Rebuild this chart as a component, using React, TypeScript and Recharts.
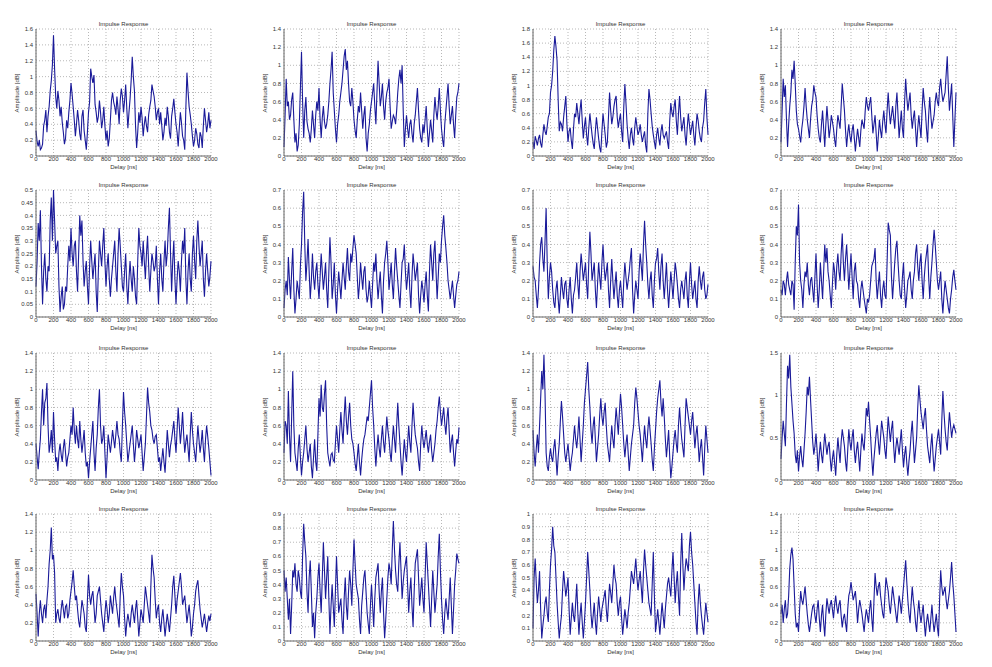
import { LineChart, Line, XAxis, YAxis, CartesianGrid } from 'recharts';

// delay axis, ns
const delays = [
  0, 25, 50, 75, 100, 125, 150, 175, 200, 225,
  250, 275, 300, 325, 350, 375, 400, 425, 450, 475,
  500, 525, 550, 575, 600, 625, 650, 675, 700, 725,
  750, 775, 800, 825, 850, 875, 900, 925, 950, 975,
  1000, 1025, 1050, 1075, 1100, 1125, 1150, 1175, 1200, 1225,
  1250, 1275, 1300, 1325, 1350, 1375, 1400, 1425, 1450, 1475,
  1500, 1525, 1550, 1575, 1600, 1625, 1650, 1675, 1700, 1725,
  1750, 1775, 1800, 1825, 1850, 1875, 1900, 1925, 1950, 1975,
  2000,
];
// in-between samples
const midDelays = [
  12.5, 37.5, 62.5, 87.5, 112.5, 137.5, 162.5, 187.5, 212.5, 237.5,
  262.5, 287.5, 312.5, 337.5, 362.5, 387.5, 412.5, 437.5, 462.5, 487.5,
  512.5, 537.5, 562.5, 587.5, 612.5, 637.5, 662.5, 687.5, 712.5, 737.5,
  762.5, 787.5, 812.5, 837.5, 862.5, 887.5, 912.5, 937.5, 962.5, 987.5,
  1012.5, 1037.5, 1062.5, 1087.5, 1112.5, 1137.5, 1162.5, 1187.5, 1212.5, 1237.5,
  1262.5, 1287.5, 1312.5, 1337.5, 1362.5, 1387.5, 1412.5, 1437.5, 1462.5, 1487.5,
  1512.5, 1537.5, 1562.5, 1587.5, 1612.5, 1637.5, 1662.5, 1687.5, 1712.5, 1737.5,
  1762.5, 1787.5, 1812.5, 1837.5, 1862.5, 1887.5, 1912.5, 1937.5, 1962.5, 1987.5,
];

const xTicks = [0, 200, 400, 600, 800, 1000, 1200, 1400, 1600, 1800, 2000];

const ticks16 = [0, 0.2, 0.4, 0.6, 0.8, 1, 1.2, 1.4, 1.6];
const ticks14 = [0, 0.2, 0.4, 0.6, 0.8, 1, 1.2, 1.4];
const ticks18 = [0, 0.2, 0.4, 0.6, 0.8, 1, 1.2, 1.4, 1.6, 1.8];
const ticks05 = [0, 0.05, 0.1, 0.15, 0.2, 0.25, 0.3, 0.35, 0.4, 0.45, 0.5];
const ticks07 = [0, 0.1, 0.2, 0.3, 0.4, 0.5, 0.6, 0.7];
const ticks15 = [0, 0.5, 1, 1.5];
const ticks09 = [0, 0.1, 0.2, 0.3, 0.4, 0.5, 0.6, 0.7, 0.8, 0.9];
const ticks10 = [0, 0.1, 0.2, 0.3, 0.4, 0.5, 0.6, 0.7, 0.8, 0.9, 1];

// amplitude per panel, row by row (ampN on delays, midN on midDelays)
const amp1 = [
  0.32, 0.12, 0.08, 0.15, 0.45, 0.3, 0.62, 0.95, 1.52, 0.75,
  0.82, 0.5, 0.42, 0.15, 0.45, 0.55, 0.92, 0.62, 0.25, 0.58,
  0.28, 0.5, 0.32, 0.08, 0.55, 1.1, 0.92, 0.65, 0.42, 0.7,
  0.35, 0.62, 0.2, 0.12, 0.45, 0.8, 0.62, 0.75, 0.4, 0.85,
  0.55, 0.9, 0.35, 0.72, 1.25, 0.82, 0.1, 0.55, 0.62, 0.25,
  0.5, 0.3, 0.62, 0.9, 0.75, 0.45, 0.6, 0.55, 0.2, 0.48,
  0.62, 0.3, 0.5, 0.72, 0.4, 0.12, 0.55, 0.25, 0.08, 1.05,
  0.62, 0.4, 0.12, 0.35, 0.15, 0.3, 0.1, 0.6, 0.3, 0.55,
  0.45,
];
const mid1 = [
  0.18, 0.2, 0.1, 0.38, 0.58, 0.5, 0.82, 1.15, 1.1, 0.6,
  0.7, 0.62, 0.3, 0.22, 0.35, 0.7, 0.78, 0.45, 0.4, 0.45,
  0.2, 0.58, 0.2, 0.3, 0.68, 1.0, 1.02, 0.55, 0.5, 0.55,
  0.45, 0.38, 0.32, 0.22, 0.7, 0.68, 0.52, 0.6, 0.7, 0.75,
  0.7, 0.6, 0.55, 0.95, 1.0, 0.38, 0.3, 0.42, 0.48, 0.4,
  0.38, 0.52, 0.7, 0.82, 0.62, 0.55, 0.4, 0.38, 0.3, 0.38,
  0.5, 0.22, 0.6, 0.55, 0.3, 0.35, 0.42, 0.2, 0.6, 0.82,
  0.52, 0.25, 0.2, 0.28, 0.1, 0.25, 0.38, 0.45, 0.4, 0.35,
];
const amp2 = [
  0.1, 0.85, 0.6, 0.45, 0.7, 0.15, 0.05, 0.35, 1.15, 0.2,
  0.65, 0.3, 0.15, 0.5, 0.2, 0.6, 0.75, 0.2, 0.55, 0.3,
  0.45, 0.8, 1.15, 0.5, 0.15, 0.45, 0.7, 0.95, 1.18, 1.05,
  0.6, 0.75, 0.4, 0.2, 0.55, 0.7, 0.3, 0.55, 0.05, 0.35,
  0.6, 0.8, 0.35, 1.05, 0.55, 0.8, 0.4, 0.7, 0.85, 0.3,
  0.45, 0.35, 0.7, 0.95, 1.0, 0.1, 0.45, 0.2, 0.4, 0.15,
  0.45, 0.75, 0.3, 0.15, 0.25, 0.55, 0.1, 0.4, 0.15, 0.65,
  0.4, 0.75, 0.3, 0.1, 0.5, 0.8, 0.35, 0.55, 0.2, 0.65,
  0.8,
];
const mid2 = [
  0.45, 0.55, 0.4, 0.62, 0.4, 0.25, 0.12, 0.75, 0.6, 0.5,
  0.38, 0.25, 0.3, 0.35, 0.45, 0.5, 0.4, 0.42, 0.38, 0.35,
  0.6, 0.95, 0.7, 0.3, 0.35, 0.6, 0.8, 1.1, 0.95, 0.8,
  0.55, 0.6, 0.28, 0.4, 0.48, 0.5, 0.45, 0.2, 0.25, 0.5,
  0.7, 0.55, 0.7, 0.8, 0.65, 0.55, 0.6, 0.75, 0.55, 0.38,
  0.42, 0.5, 0.85, 0.8, 0.5, 0.3, 0.3, 0.35, 0.25, 0.35,
  0.6, 0.5, 0.2, 0.35, 0.4, 0.3, 0.25, 0.28, 0.45, 0.5,
  0.55, 0.5, 0.18, 0.35, 0.65, 0.55, 0.45, 0.35, 0.45, 0.7,
];
const amp3 = [
  0.2, 0.28, 0.15, 0.3, 0.12, 0.45, 0.3, 0.55, 0.9, 1.2,
  1.7, 1.35, 0.35, 0.45, 0.55, 0.85, 0.2, 0.4, 0.1, 0.6,
  0.75, 0.45, 0.8, 0.25, 0.55, 0.15, 0.6, 0.3, 0.1, 0.55,
  0.25, 0.05, 0.6, 0.3, 0.2, 0.9, 0.45, 0.7, 0.85, 0.4,
  0.6, 0.2, 1.02, 0.45, 0.1, 0.4, 0.15, 0.55, 0.3, 0.45,
  0.2, 0.35, 0.05, 0.95, 0.6, 0.3, 0.1, 0.4, 0.15, 0.45,
  0.25, 0.35, 0.1, 0.75, 0.55, 0.8, 0.3, 0.85, 0.35, 0.55,
  0.15, 0.6, 0.3, 0.5, 0.15, 0.6, 0.35, 0.2, 0.5, 0.95,
  0.3,
];
const mid3 = [
  0.1, 0.22, 0.25, 0.18, 0.3, 0.35, 0.42, 0.6, 1.0, 1.5,
  1.55, 0.8, 0.48, 0.35, 0.7, 0.45, 0.35, 0.22, 0.38, 0.55,
  0.6, 0.65, 0.5, 0.42, 0.3, 0.4, 0.45, 0.18, 0.35, 0.4,
  0.12, 0.35, 0.45, 0.12, 0.55, 0.65, 0.55, 0.8, 0.55, 0.52,
  0.35, 0.7, 0.75, 0.25, 0.3, 0.25, 0.4, 0.42, 0.35, 0.3,
  0.28, 0.15, 0.6, 0.8, 0.42, 0.2, 0.3, 0.25, 0.35, 0.3,
  0.3, 0.2, 0.5, 0.62, 0.7, 0.5, 0.6, 0.55, 0.45, 0.3,
  0.4, 0.45, 0.4, 0.3, 0.4, 0.5, 0.25, 0.4, 0.75, 0.55,
];
const amp4 = [
  0.15, 0.85, 0.78, 0.1, 0.55, 0.95, 1.05, 0.5, 0.3, 0.15,
  0.4, 0.75, 0.4, 0.2, 0.55, 0.78, 0.65, 0.3, 0.15, 0.5,
  0.1, 0.55, 0.2, 0.45, 0.3, 0.1, 0.45, 0.3, 0.8, 0.5,
  0.1, 0.35, 0.15, 0.35, 0.05, 0.3, 0.1, 0.4, 0.3, 0.65,
  0.5, 0.65, 0.25, 0.45, 0.05, 0.4, 0.2, 0.5, 0.25, 0.7,
  0.35, 0.55, 0.3, 0.7, 0.2, 0.5, 0.2, 0.85, 0.5, 0.7,
  0.3, 0.5, 0.1, 0.45, 0.2, 0.75, 0.5, 0.15, 0.65, 0.3,
  0.45, 0.7, 0.55, 0.85, 0.6, 0.7, 1.1, 0.5, 0.8, 0.1,
  0.7,
];
const mid4 = [
  0.5, 0.65, 0.4, 0.35, 0.7, 0.85, 0.8, 0.35, 0.22, 0.3,
  0.55, 0.55, 0.3, 0.4, 0.62, 0.7, 0.45, 0.2, 0.35, 0.3,
  0.35, 0.38, 0.3, 0.38, 0.18, 0.3, 0.38, 0.55, 0.65, 0.28,
  0.25, 0.22, 0.28, 0.2, 0.18, 0.2, 0.28, 0.35, 0.5, 0.55,
  0.58, 0.45, 0.35, 0.25, 0.22, 0.28, 0.38, 0.35, 0.5, 0.5,
  0.45, 0.42, 0.55, 0.45, 0.35, 0.3, 0.6, 0.65, 0.6, 0.45,
  0.42, 0.3, 0.3, 0.32, 0.5, 0.6, 0.3, 0.45, 0.45, 0.38,
  0.6, 0.6, 0.75, 0.7, 0.65, 0.9, 0.75, 0.65, 0.45, 0.4,
];
const amp5 = [
  0.12, 0.37, 0.42, 0.05, 0.25, 0.1, 0.18, 0.47, 0.5, 0.25,
  0.3, 0.02, 0.12, 0.05, 0.1, 0.28, 0.35, 0.2, 0.3, 0.1,
  0.4, 0.38, 0.12, 0.22, 0.05, 0.3, 0.15, 0.25, 0.02, 0.3,
  0.2, 0.35, 0.12, 0.25, 0.08, 0.2, 0.3, 0.1, 0.35, 0.2,
  0.1, 0.25, 0.05, 0.22, 0.1, 0.15, 0.05, 0.35, 0.25, 0.3,
  0.15, 0.32, 0.1, 0.25, 0.18, 0.28, 0.05, 0.25, 0.1, 0.3,
  0.25, 0.43, 0.1, 0.3, 0.05, 0.22, 0.1, 0.3, 0.35, 0.05,
  0.25, 0.1, 0.32, 0.15, 0.38, 0.2, 0.3, 0.08, 0.25, 0.12,
  0.22,
];
const mid5 = [
  0.22, 0.3, 0.2, 0.18, 0.15, 0.2, 0.38, 0.3, 0.38, 0.28,
  0.12, 0.08, 0.03, 0.12, 0.2, 0.22, 0.25, 0.28, 0.18, 0.25,
  0.32, 0.22, 0.18, 0.12, 0.2, 0.22, 0.2, 0.1, 0.18, 0.25,
  0.28, 0.22, 0.2, 0.15, 0.15, 0.25, 0.18, 0.25, 0.28, 0.12,
  0.18, 0.12, 0.15, 0.15, 0.2, 0.08, 0.22, 0.28, 0.2, 0.22,
  0.25, 0.2, 0.18, 0.22, 0.2, 0.15, 0.18, 0.15, 0.22, 0.2,
  0.35, 0.25, 0.22, 0.15, 0.15, 0.18, 0.22, 0.25, 0.15, 0.18,
  0.15, 0.25, 0.22, 0.3, 0.28, 0.25, 0.15, 0.18, 0.18, 0.16,
];
const amp6 = [
  0.05, 0.2, 0.33, 0.1, 0.38, 0.02, 0.2, 0.1, 0.4, 0.69,
  0.2, 0.43, 0.1, 0.35, 0.15, 0.3, 0.1, 0.35, 0.15, 0.3,
  0.05, 0.44, 0.1, 0.3, 0.02, 0.25, 0.1, 0.3, 0.15, 0.38,
  0.2, 0.3, 0.45, 0.35, 0.1, 0.3, 0.15, 0.28, 0.08, 0.2,
  0.05, 0.3, 0.35, 0.1, 0.25, 0.02, 0.3, 0.42, 0.15, 0.3,
  0.1, 0.38, 0.2, 0.05, 0.3, 0.4, 0.15, 0.3, 0.05, 0.35,
  0.2, 0.3, 0.02, 0.2, 0.08, 0.25, 0.03, 0.4, 0.2, 0.42,
  0.1, 0.35, 0.42, 0.56, 0.38, 0.2, 0.1, 0.2, 0.05, 0.18,
  0.25,
];
const mid6 = [
  0.15, 0.12, 0.2, 0.25, 0.15, 0.1, 0.15, 0.28, 0.58, 0.4,
  0.3, 0.25, 0.2, 0.22, 0.25, 0.18, 0.22, 0.25, 0.22, 0.15,
  0.25, 0.3, 0.18, 0.12, 0.15, 0.18, 0.2, 0.22, 0.28, 0.25,
  0.35, 0.38, 0.4, 0.22, 0.18, 0.22, 0.25, 0.15, 0.12, 0.12,
  0.18, 0.25, 0.2, 0.18, 0.12, 0.2, 0.35, 0.3, 0.22, 0.18,
  0.25, 0.28, 0.12, 0.18, 0.32, 0.25, 0.22, 0.15, 0.22, 0.28,
  0.25, 0.12, 0.12, 0.15, 0.18, 0.12, 0.25, 0.3, 0.35, 0.25,
  0.22, 0.3, 0.5, 0.45, 0.3, 0.15, 0.15, 0.12, 0.12, 0.2,
];
const amp7 = [
  0.28, 0.2, 0.05, 0.3, 0.44, 0.25, 0.6, 0.1, 0.3, 0.15,
  0.05, 0.2, 0.02, 0.22, 0.1, 0.2, 0.05, 0.22, 0.02, 0.15,
  0.3, 0.1, 0.35, 0.2, 0.3, 0.1, 0.47, 0.2, 0.3, 0.05,
  0.3, 0.15, 0.4, 0.2, 0.3, 0.05, 0.32, 0.1, 0.25, 0.05,
  0.2, 0.05, 0.3, 0.15, 0.25, 0.38, 0.02, 0.2, 0.1, 0.35,
  0.2, 0.53, 0.3, 0.1, 0.25, 0.05, 0.3, 0.38, 0.15, 0.35,
  0.1, 0.3, 0.05, 0.25, 0.1, 0.3, 0.18, 0.05, 0.2, 0.1,
  0.25, 0.05, 0.3, 0.1, 0.2, 0.05, 0.28, 0.15, 0.25, 0.1,
  0.18,
];
const mid7 = [
  0.22, 0.12, 0.15, 0.4, 0.32, 0.42, 0.3, 0.22, 0.25, 0.08,
  0.15, 0.1, 0.12, 0.15, 0.18, 0.1, 0.15, 0.1, 0.12, 0.22,
  0.18, 0.25, 0.28, 0.25, 0.18, 0.3, 0.35, 0.25, 0.15, 0.18,
  0.22, 0.3, 0.28, 0.25, 0.15, 0.2, 0.2, 0.18, 0.12, 0.15,
  0.12, 0.2, 0.22, 0.2, 0.32, 0.15, 0.12, 0.15, 0.25, 0.28,
  0.4, 0.4, 0.18, 0.2, 0.12, 0.2, 0.32, 0.25, 0.28, 0.2,
  0.2, 0.15, 0.15, 0.18, 0.2, 0.25, 0.1, 0.15, 0.15, 0.2,
  0.12, 0.2, 0.18, 0.15, 0.1, 0.2, 0.2, 0.22, 0.15, 0.12,
];
const amp8 = [
  0.15, 0.2, 0.12, 0.25, 0.15, 0.2, 0.04, 0.5, 0.62, 0.2,
  0.05, 0.25, 0.3, 0.12, 0.22, 0.08, 0.35, 0.05, 0.3, 0.1,
  0.4, 0.38, 0.2, 0.05, 0.3, 0.15, 0.35, 0.2, 0.46, 0.2,
  0.4, 0.15, 0.35, 0.1, 0.3, 0.18, 0.05, 0.2, 0.1, 0.02,
  0.08, 0.2, 0.3, 0.38, 0.1, 0.25, 0.05, 0.2, 0.1, 0.52,
  0.45, 0.1, 0.3, 0.42, 0.2, 0.1, 0.3, 0.05, 0.2, 0.25,
  0.1, 0.25, 0.4, 0.2, 0.35, 0.1, 0.3, 0.4, 0.1, 0.3,
  0.48, 0.3, 0.15, 0.25, 0.02, 0.2, 0.1, 0.02, 0.15, 0.26,
  0.15,
];
const mid8 = [
  0.12, 0.18, 0.2, 0.18, 0.12, 0.18, 0.3, 0.45, 0.3, 0.15,
  0.18, 0.22, 0.18, 0.2, 0.15, 0.22, 0.18, 0.15, 0.2, 0.25,
  0.3, 0.25, 0.12, 0.18, 0.25, 0.28, 0.25, 0.35, 0.3, 0.32,
  0.28, 0.25, 0.22, 0.25, 0.2, 0.1, 0.15, 0.15, 0.06, 0.1,
  0.12, 0.28, 0.32, 0.2, 0.18, 0.12, 0.15, 0.12, 0.3, 0.48,
  0.22, 0.2, 0.38, 0.3, 0.12, 0.22, 0.15, 0.12, 0.22, 0.15,
  0.2, 0.35, 0.28, 0.3, 0.2, 0.22, 0.35, 0.22, 0.22, 0.4,
  0.4, 0.2, 0.2, 0.1, 0.12, 0.15, 0.05, 0.1, 0.22, 0.2,
];
const amp9 = [
  0.4, 0.12, 0.45, 1.0, 0.85, 1.07, 0.3, 0.55, 0.75, 0.2,
  0.1, 0.4, 0.2, 0.45, 0.15, 0.3, 0.6, 0.8, 0.4, 0.45,
  0.65, 0.3, 0.55, 0.15, 0.02, 0.35, 0.65, 0.1, 0.5, 1.0,
  0.4, 0.6, 0.02, 0.5, 0.3, 0.55, 0.35, 0.65, 0.45, 0.2,
  0.97, 0.6, 0.2, 0.4, 0.6, 0.2, 0.55, 0.35, 0.5, 0.1,
  0.4, 1.02, 0.75, 0.55, 0.4, 0.5, 0.2, 0.1, 0.35, 0.08,
  0.55, 0.25, 0.45, 0.65, 0.3, 0.8, 0.4, 0.75, 0.3, 0.5,
  0.2, 0.75, 0.4, 0.2, 0.6, 0.3, 0.55, 0.2, 0.6, 0.35,
  0.05,
];
const mid9 = [
  0.25, 0.3, 0.75, 0.6, 0.9, 0.6, 0.4, 0.3, 0.45, 0.25,
  0.3, 0.28, 0.35, 0.3, 0.25, 0.45, 0.5, 0.55, 0.6, 0.35,
  0.45, 0.42, 0.3, 0.2, 0.2, 0.5, 0.3, 0.35, 0.8, 0.6,
  0.45, 0.3, 0.25, 0.4, 0.42, 0.45, 0.5, 0.5, 0.3, 0.6,
  0.75, 0.4, 0.3, 0.5, 0.4, 0.35, 0.45, 0.42, 0.3, 0.25,
  0.7, 0.85, 0.6, 0.45, 0.48, 0.35, 0.25, 0.22, 0.2, 0.3,
  0.4, 0.38, 0.55, 0.45, 0.55, 0.6, 0.55, 0.5, 0.42, 0.35,
  0.5, 0.55, 0.3, 0.4, 0.45, 0.4, 0.35, 0.45, 0.48, 0.2,
];
const amp10 = [
  0.3, 0.6, 0.98, 0.2, 1.2, 0.3, 0.1, 0.5, 0.05, 0.3,
  0.6, 0.2, 0.4, 0.02, 0.45, 0.1, 0.9, 1.05, 0.75, 1.1,
  0.3, 0.15, 0.3, 0.2, 0.6, 0.3, 0.75, 0.4, 0.92, 0.5,
  0.85, 0.45, 0.3, 0.1, 0.4, 0.05, 0.35, 0.5, 0.7, 0.8,
  1.1, 0.6, 0.15, 0.5, 0.25, 0.6, 0.3, 0.7, 0.45, 0.2,
  0.6, 0.3, 0.85, 0.4, 0.05, 0.45, 0.2, 0.6, 0.3, 0.85,
  0.5, 0.35, 0.1, 0.6, 0.35, 0.55, 0.3, 0.5, 0.2, 0.4,
  0.65, 0.92, 0.6, 0.8, 0.5, 0.8, 0.3, 0.5, 0.15, 0.45,
  0.58,
];
const mid10 = [
  0.65, 0.4, 0.5, 0.7, 0.6, 0.2, 0.35, 0.25, 0.2, 0.45,
  0.35, 0.3, 0.15, 0.25, 0.2, 0.5, 0.7, 0.8, 0.95, 0.6,
  0.22, 0.28, 0.22, 0.4, 0.45, 0.55, 0.55, 0.7, 0.65, 0.7,
  0.6, 0.4, 0.18, 0.25, 0.2, 0.22, 0.45, 0.6, 0.65, 0.95,
  0.8, 0.35, 0.35, 0.35, 0.45, 0.42, 0.5, 0.55, 0.3, 0.42,
  0.45, 0.6, 0.6, 0.2, 0.25, 0.3, 0.4, 0.42, 0.6, 0.65,
  0.42, 0.2, 0.4, 0.45, 0.45, 0.4, 0.42, 0.32, 0.3, 0.55,
  0.8, 0.75, 0.7, 0.62, 0.68, 0.55, 0.42, 0.3, 0.32, 0.4,
];
const amp11 = [
  0.55, 0.15, 0.5, 0.6, 1.2, 1.38, 0.3, 0.1, 0.35, 0.2,
  0.45, 0.05, 0.4, 0.87, 0.5, 0.2, 0.4, 0.1, 0.3, 0.6,
  0.35, 0.7, 0.2, 0.6, 1.0, 1.3, 0.8, 0.4, 0.7, 0.2,
  0.5, 0.9, 0.6, 0.85, 0.4, 0.2, 0.6, 0.35, 0.8, 0.5,
  0.95, 0.6, 0.25, 0.5, 0.1, 0.4, 0.6, 1.02, 0.75, 0.5,
  0.2, 0.6, 0.35, 0.7, 0.4, 0.1, 0.55, 0.9, 1.1, 0.7,
  0.7, 0.25, 0.55, 0.02, 0.3, 0.55, 0.3, 0.8, 0.45, 0.25,
  0.9, 0.7, 0.5, 0.75, 0.35, 0.6, 0.2, 0.45, 0.05, 0.6,
  0.3,
];
const mid11 = [
  0.3, 0.35, 0.3, 0.9, 1.0, 0.95, 0.15, 0.25, 0.25, 0.35,
  0.25, 0.25, 0.65, 0.7, 0.3, 0.3, 0.25, 0.22, 0.45, 0.45,
  0.5, 0.45, 0.4, 0.85, 1.15, 1.0, 0.55, 0.6, 0.45, 0.35,
  0.72, 0.7, 0.75, 0.6, 0.3, 0.42, 0.45, 0.6, 0.65, 0.75,
  0.8, 0.4, 0.4, 0.3, 0.25, 0.5, 0.85, 0.9, 0.6, 0.35,
  0.42, 0.45, 0.55, 0.55, 0.22, 0.35, 0.75, 1.0, 0.85, 0.9,
  0.45, 0.4, 0.25, 0.15, 0.45, 0.4, 0.6, 0.6, 0.35, 0.6,
  0.8, 0.6, 0.65, 0.55, 0.5, 0.4, 0.35, 0.25, 0.35, 0.45,
];
const amp12 = [
  0.25, 0.7, 0.4, 1.35, 1.48, 0.9, 0.55, 0.2, 0.1, 0.4,
  0.15, 0.55, 1.1, 1.22, 0.7, 0.3, 0.55, 0.1, 0.45, 0.2,
  0.55, 0.3, 0.45, 0.1, 0.35, 0.05, 0.5, 0.2, 0.6, 0.4,
  0.1, 0.6, 0.35, 0.6, 0.2, 0.45, 0.1, 0.55, 0.35, 0.85,
  0.92, 0.5, 0.05, 0.4, 0.65, 0.3, 0.7, 0.5, 0.25, 0.75,
  0.45, 0.7, 0.2, 0.5, 0.3, 0.6, 0.15, 0.4, 0.05, 0.35,
  0.7, 0.2, 0.5, 1.12, 0.8, 0.6, 0.85, 0.4, 0.2, 0.55,
  0.1, 0.4, 0.6, 0.3, 1.05, 0.6, 0.35, 0.8, 0.5, 0.65,
  0.55,
];
const mid12 = [
  0.5, 0.55, 0.9, 1.2, 1.1, 0.7, 0.3, 0.35, 0.28, 0.25,
  0.35, 0.8, 1.0, 0.95, 0.45, 0.4, 0.35, 0.3, 0.3, 0.38,
  0.42, 0.4, 0.25, 0.25, 0.2, 0.3, 0.35, 0.45, 0.5, 0.22,
  0.35, 0.45, 0.5, 0.35, 0.35, 0.28, 0.35, 0.42, 0.6, 0.75,
  0.7, 0.25, 0.25, 0.55, 0.45, 0.5, 0.6, 0.35, 0.5, 0.6,
  0.6, 0.4, 0.38, 0.4, 0.45, 0.35, 0.3, 0.2, 0.22, 0.55,
  0.45, 0.35, 0.85, 0.95, 0.7, 0.75, 0.6, 0.3, 0.4, 0.3,
  0.25, 0.5, 0.45, 0.7, 0.8, 0.45, 0.6, 0.65, 0.6, 0.6,
];
const amp13 = [
  0.52, 0.05, 0.45, 0.2, 0.4, 0.45, 0.85, 1.25, 0.95, 0.2,
  0.35, 0.2, 0.45, 0.25, 0.4, 0.3, 0.55, 0.78, 0.45, 0.35,
  0.15, 0.45, 0.3, 0.1, 0.73, 0.4, 0.55, 0.2, 0.5, 0.6,
  0.3, 0.1, 0.45, 0.2, 0.5, 0.3, 0.6, 0.35, 0.15, 0.75,
  0.5, 0.05, 0.3, 0.15, 0.4, 0.2, 0.45, 0.05, 0.35, 0.2,
  0.6, 0.4, 0.2, 0.95, 0.7, 0.25, 0.4, 0.1, 0.35, 0.05,
  0.3, 0.1, 0.4, 0.72, 0.3, 0.55, 0.75, 0.4, 0.5, 0.2,
  0.4, 0.05, 0.3, 0.55, 0.67, 0.35, 0.15, 0.3, 0.1, 0.28,
  0.3,
];
const mid13 = [
  0.3, 0.3, 0.3, 0.35, 0.25, 0.6, 1.0, 0.9, 0.75, 0.3,
  0.25, 0.35, 0.35, 0.38, 0.25, 0.45, 0.65, 0.6, 0.5, 0.22,
  0.3, 0.38, 0.15, 0.45, 0.5, 0.5, 0.38, 0.3, 0.55, 0.45,
  0.2, 0.3, 0.35, 0.3, 0.4, 0.48, 0.45, 0.25, 0.5, 0.6,
  0.25, 0.2, 0.22, 0.3, 0.3, 0.35, 0.25, 0.2, 0.28, 0.4,
  0.5, 0.3, 0.6, 0.8, 0.45, 0.35, 0.2, 0.25, 0.2, 0.18,
  0.2, 0.25, 0.6, 0.5, 0.45, 0.65, 0.6, 0.45, 0.35, 0.3,
  0.25, 0.15, 0.4, 0.62, 0.5, 0.25, 0.22, 0.2, 0.2, 0.22,
];
const amp14 = [
  0.5, 0.45, 0.15, 0.05, 0.5, 0.55, 0.35, 0.45, 0.3, 0.83,
  0.6, 0.2, 0.57, 0.1, 0.02, 0.3, 0.55, 0.2, 0.7, 0.3,
  0.6, 0.05, 0.4, 0.1, 0.6, 0.2, 0.3, 0.05, 0.45, 0.15,
  0.5, 0.25, 0.72, 0.4, 0.3, 0.05, 0.35, 0.5, 0.2, 0.05,
  0.4, 0.1, 0.45, 0.55, 0.2, 0.45, 0.02, 0.3, 0.55, 0.4,
  0.85, 0.5, 0.35, 0.7, 0.3, 0.5, 0.6, 0.2, 0.45, 0.1,
  0.55, 0.65, 0.25, 0.45, 0.2, 0.7, 0.4, 0.1, 0.5, 0.2,
  0.4, 0.76, 0.3, 0.05, 0.3, 0.15, 0.45, 0.05, 0.4, 0.62,
  0.55,
];
const mid14 = [
  0.35, 0.3, 0.3, 0.25, 0.45, 0.4, 0.5, 0.35, 0.6, 0.7,
  0.35, 0.45, 0.35, 0.2, 0.2, 0.45, 0.35, 0.45, 0.5, 0.45,
  0.3, 0.25, 0.25, 0.35, 0.4, 0.25, 0.15, 0.3, 0.25, 0.35,
  0.4, 0.5, 0.55, 0.35, 0.15, 0.25, 0.45, 0.35, 0.12, 0.25,
  0.25, 0.3, 0.5, 0.35, 0.35, 0.2, 0.15, 0.45, 0.5, 0.65,
  0.65, 0.4, 0.55, 0.5, 0.42, 0.55, 0.4, 0.35, 0.25, 0.35,
  0.6, 0.45, 0.35, 0.3, 0.45, 0.55, 0.25, 0.3, 0.35, 0.3,
  0.6, 0.5, 0.15, 0.2, 0.22, 0.3, 0.25, 0.22, 0.5, 0.58,
];
const amp15 = [
  0.1, 0.65, 0.3, 0.55, 0.02, 0.2, 0.35, 0.15, 0.6, 0.9,
  0.7, 0.3, 0.02, 0.2, 0.55, 0.35, 0.5, 0.05, 0.3, 0.15,
  0.45, 0.05, 0.3, 0.02, 0.3, 0.7, 0.4, 0.1, 0.3, 0.05,
  0.35, 0.15, 0.3, 0.4, 0.15, 0.45, 0.3, 0.6, 0.45, 0.2,
  0.35, 0.05, 0.25, 0.1, 0.3, 0.55, 0.45, 0.65, 0.4, 0.55,
  0.3, 0.72, 0.5, 0.3, 0.2, 0.7, 0.07, 0.25, 0.05, 0.3,
  0.1, 0.35, 0.5, 0.35, 0.7, 0.3, 0.55, 0.2, 0.85, 0.4,
  0.65, 0.55, 0.86, 0.6, 0.3, 0.05, 0.45, 0.2, 0.05, 0.3,
  0.15,
];
const mid15 = [
  0.5, 0.45, 0.4, 0.25, 0.12, 0.3, 0.22, 0.4, 0.72, 0.75,
  0.5, 0.15, 0.12, 0.4, 0.45, 0.42, 0.25, 0.18, 0.2, 0.3,
  0.22, 0.2, 0.15, 0.15, 0.5, 0.55, 0.22, 0.2, 0.15, 0.22,
  0.25, 0.25, 0.35, 0.25, 0.3, 0.38, 0.45, 0.5, 0.3, 0.3,
  0.18, 0.15, 0.18, 0.22, 0.42, 0.5, 0.55, 0.5, 0.48, 0.42,
  0.55, 0.6, 0.4, 0.25, 0.45, 0.35, 0.15, 0.15, 0.18, 0.2,
  0.25, 0.45, 0.42, 0.55, 0.5, 0.45, 0.35, 0.6, 0.6, 0.55,
  0.6, 0.75, 0.7, 0.45, 0.15, 0.3, 0.3, 0.12, 0.18, 0.22,
];
const amp16 = [
  0.3, 0.2, 0.45, 0.3, 0.8, 1.03, 0.6, 0.15, 0.1, 0.55,
  0.4, 0.6, 0.3, 0.1, 0.3, 0.4, 0.2, 0.45, 0.1, 0.4,
  0.05, 0.47, 0.3, 0.45, 0.25, 0.5, 0.3, 0.45, 0.15, 0.3,
  0.1, 0.5, 0.65, 0.45, 0.55, 0.2, 0.45, 0.3, 0.1, 0.35,
  0.2, 0.45, 0.1, 0.75, 0.5, 0.65, 0.4, 0.25, 0.7, 0.55,
  0.3, 0.6, 0.4, 0.2, 0.5, 0.3, 0.6, 0.89, 0.45, 0.2,
  0.6, 0.35, 0.1, 0.45, 0.2, 0.4, 0.05, 0.3, 0.1, 0.4,
  0.1, 0.3, 0.05, 0.78, 0.5, 0.6, 0.35, 0.55, 0.87, 0.5,
  0.1,
];
const mid16 = [
  0.4, 0.35, 0.25, 0.5, 0.95, 0.9, 0.3, 0.2, 0.35, 0.45,
  0.5, 0.45, 0.18, 0.2, 0.38, 0.28, 0.35, 0.25, 0.28, 0.2,
  0.3, 0.38, 0.4, 0.35, 0.4, 0.38, 0.4, 0.28, 0.25, 0.2,
  0.35, 0.55, 0.55, 0.5, 0.4, 0.35, 0.38, 0.2, 0.25, 0.28,
  0.35, 0.25, 0.45, 0.6, 0.6, 0.5, 0.3, 0.5, 0.62, 0.4,
  0.45, 0.5, 0.3, 0.35, 0.42, 0.45, 0.75, 0.65, 0.3, 0.42,
  0.45, 0.2, 0.3, 0.3, 0.3, 0.2, 0.2, 0.2, 0.25, 0.22,
  0.2, 0.15, 0.45, 0.6, 0.55, 0.45, 0.45, 0.7, 0.65, 0.3,
];

const panels = [
  { values: amp1, mids: mid1, yMax: 1.6, yTicks: ticks16 },
  { values: amp2, mids: mid2, yMax: 1.4, yTicks: ticks14 },
  { values: amp3, mids: mid3, yMax: 1.8, yTicks: ticks18 },
  { values: amp4, mids: mid4, yMax: 1.4, yTicks: ticks14 },
  { values: amp5, mids: mid5, yMax: 0.5, yTicks: ticks05 },
  { values: amp6, mids: mid6, yMax: 0.7, yTicks: ticks07 },
  { values: amp7, mids: mid7, yMax: 0.7, yTicks: ticks07 },
  { values: amp8, mids: mid8, yMax: 0.7, yTicks: ticks07 },
  { values: amp9, mids: mid9, yMax: 1.4, yTicks: ticks14 },
  { values: amp10, mids: mid10, yMax: 1.4, yTicks: ticks14 },
  { values: amp11, mids: mid11, yMax: 1.4, yTicks: ticks14 },
  { values: amp12, mids: mid12, yMax: 1.5, yTicks: ticks15 },
  { values: amp13, mids: mid13, yMax: 1.4, yTicks: ticks14 },
  { values: amp14, mids: mid14, yMax: 0.9, yTicks: ticks09 },
  { values: amp15, mids: mid15, yMax: 1, yTicks: ticks10 },
  { values: amp16, mids: mid16, yMax: 1.4, yTicks: ticks14 },
];

// plot-area corners in the page
const colLeft = [36, 284, 533, 781];
const rowTop = [29, 190, 353, 514];
const PLOT_W = 175;
const PLOT_H = 127;
const PAD_L = 30;
const PAD_T = 12;
const PAD_R = 10;
const PAD_B = 25;

const FONT = '"Liberation Sans", Arial, sans-serif';
const TEXT = '#333';
const BOX = '#666';

function Panel({ values, mids, yMax, yTicks, left, top }: any) {
  const data = delays.flatMap((d, i) =>
    i < midDelays.length
      ? [{ delay: d, amp: values[i] }, { delay: midDelays[i], amp: mids[i] }]
      : [{ delay: d, amp: values[i] }]
  );
  const tick = { fontSize: 6, fill: TEXT, fontFamily: FONT };
  const label = { position: 'absolute' as const, fontSize: 6, lineHeight: '8px', color: TEXT, fontFamily: FONT, textAlign: 'center' as const };

  return (
    <div style={{ position: 'absolute', left: left - PAD_L, top: top - PAD_T }}>
      <LineChart
        width={PLOT_W + PAD_L + PAD_R}
        height={PLOT_H + PAD_T + PAD_B}
        data={data}
        margin={{ top: PAD_T, right: PAD_R, bottom: 0, left: 0 }}
      >
        <CartesianGrid stroke="#9a9a9a" strokeDasharray="1 2" strokeWidth={0.7} />
        <XAxis
          dataKey="delay"
          type="number"
          domain={[0, 2000]}
          ticks={xTicks}
          interval={0}
          height={PAD_B}
          tick={tick}
          tickLine={false}
          tickSize={1}
          tickMargin={0}
          axisLine={{ stroke: BOX }}
        />
        <YAxis
          type="number"
          domain={[0, yMax]}
          ticks={yTicks}
          interval={0}
          width={PAD_L}
          tick={tick}
          tickLine={false}
          tickSize={2}
          tickMargin={1}
          axisLine={{ stroke: BOX }}
        />
        <XAxis xAxisId="top" orientation="top" type="number" domain={[0, 2000]} height={0} tick={false} tickLine={false} axisLine={{ stroke: BOX }} />
        <YAxis yAxisId="right" orientation="right" type="number" domain={[0, yMax]} width={0} tick={false} tickLine={false} axisLine={{ stroke: BOX }} />
        <Line
          type="linear"
          dataKey="amp"
          stroke="#1a1a99"
          strokeWidth={1.1}
          dot={false}
          isAnimationActive={false}
        />
      </LineChart>
      <div style={{ ...label, left: PAD_L, top: PAD_T - 9, width: PLOT_W }}>Impulse Response</div>
      <div style={{ ...label, left: PAD_L, top: PAD_T + PLOT_H + 7, width: PLOT_W }}>Delay [ns]</div>
      <div style={{ ...label, left: PAD_L - 19 - 40, top: PAD_T + PLOT_H / 2 - 4, width: 80, transform: 'rotate(-90deg)' }}>
        Amplitude [dB]
      </div>
    </div>
  );
}

export default function App() {
  return (
    <div style={{ position: 'absolute', left: 0, top: 0, width: 992, height: 667, background: '#fff' }}>
      {panels.map((p, i) => (
        <Panel
          key={i}
          values={p.values}
          mids={p.mids}
          yMax={p.yMax}
          yTicks={p.yTicks}
          left={colLeft[i % 4]}
          top={rowTop[Math.floor(i / 4)]}
        />
      ))}
    </div>
  );
}
